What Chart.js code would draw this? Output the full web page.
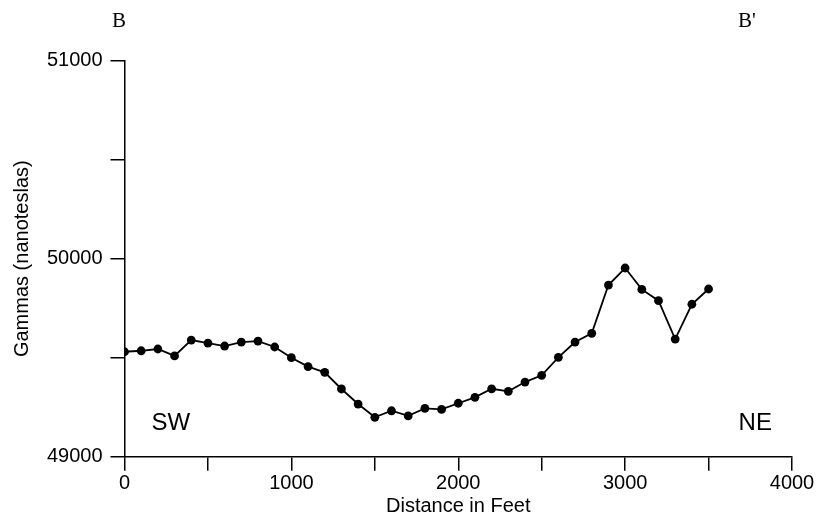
<!DOCTYPE html>
<html>
<head>
<meta charset="utf-8">
<script src="https://cdn.jsdelivr.net/npm/chart.js@4.4.1/dist/chart.umd.min.js"></script>
<style>
  html, body { margin: 0; padding: 0; background: #fff; }
  canvas { display: block; }
</style>
</head>
<body>
<canvas id="chartMag" width="824" height="523"></canvas>
<script>
// profile B - B', readings every 100 ft
const distanceFt = [0, 100, 200, 300, 400, 500, 600, 700, 800, 900,
  1000, 1100, 1200, 1300, 1400, 1500, 1600, 1700, 1800, 1900,
  2000, 2100, 2200, 2300, 2400, 2500, 2600, 2700, 2800, 2900,
  3000, 3100, 3200, 3300, 3400, 3500];
const gammas = [49530, 49535, 49544, 49509, 49589, 49574, 49559, 49579, 49584, 49554,
  49500, 49455, 49426, 49342, 49266, 49199, 49232, 49206, 49244, 49239,
  49270, 49300, 49343, 49330, 49377, 49411, 49502, 49579, 49623, 49867,
  49953, 49845, 49788, 49594, 49770, 49847];

const xLabelTicks = [0, 1000, 2000, 3000, 4000];
const yLabelTicks = [49000, 50000, 51000];

// section ends and bearings, placed in data units
const endLabels = [
  { text: 'B',  x: -33,  y: 51198 },
  { text: "B'", x: 3730, y: 51198 }
];
const dirLabels = [
  { text: 'SW', x: 277,  y: 49170 },
  { text: 'NE', x: 3780, y: 49170 }
];

Chart.defaults.font.family = '"Liberation Sans", Arial, sans-serif';
Chart.defaults.color = '#000';

const pts = distanceFt.map((d, i) => ({ x: d, y: gammas[i] }));

const textPlugin = {
  id: 'profileText',
  afterDraw(chart){
    const ctx = chart.ctx;
    const xs = chart.scales.x, ys = chart.scales.y;
    ctx.save();
    ctx.fillStyle = '#000';
    ctx.textAlign = 'center';
    ctx.textBaseline = 'middle';
    ctx.font = '21px "Liberation Serif", "Times New Roman", serif';
    endLabels.forEach(l => ctx.fillText(l.text, xs.getPixelForValue(l.x), ys.getPixelForValue(l.y)));
    ctx.font = '24px "Liberation Sans", Arial, sans-serif';
    dirLabels.forEach(l => ctx.fillText(l.text, xs.getPixelForValue(l.x), ys.getPixelForValue(l.y)));
    ctx.restore();
  }
};

const axisGrid = { display: true, drawOnChartArea: false, drawTicks: true, tickLength: 14, color: '#000', lineWidth: 1.5 };

new Chart(document.getElementById('chartMag').getContext('2d'), {
  type: 'scatter',
  data: {
    datasets: [{
      data: pts,
      showLine: true,
      borderColor: '#000',
      borderWidth: 1.8,
      backgroundColor: '#000',
      pointBackgroundColor: '#000',
      pointBorderWidth: 0,
      pointRadius: 4.4,
      tension: 0
    }]
  },
  options: {
    responsive: false,
    animation: false,
    layout: { padding: { left: 0, top: 60.7, right: 32, bottom: 0 } },
    plugins: { legend: { display: false }, tooltip: { enabled: false } },
    scales: {
      x: {
        type: 'linear',
        min: 0, max: 4000,
        border: { display: true, color: '#000', width: 1.5 },
        grid: axisGrid,
        ticks: {
          stepSize: 500,
          padding: 1,
          maxRotation: 0,
          font: { size: 20 },
          callback: v => xLabelTicks.includes(v) ? String(v) : ''
        },
        title: { display: true, text: 'Distance in Feet', font: { size: 20 }, padding: { top: 0, bottom: 5 } },
        afterFit: s => { s.height = 66.3; }
      },
      y: {
        type: 'linear',
        min: 49000, max: 51000,
        border: { display: true, color: '#000', width: 1.5 },
        grid: axisGrid,
        ticks: {
          stepSize: 500,
          padding: 8,
          font: { size: 20 },
          callback: v => yLabelTicks.includes(v) ? String(v) : ''
        },
        title: { display: true, text: 'Gammas (nanoteslas)', font: { size: 20 }, padding: { top: 10, bottom: 0 } },
        afterFit: s => { s.width = 124.5; }
      }
    }
  },
  plugins: [textPlugin]
});
</script>
</body>
</html>
